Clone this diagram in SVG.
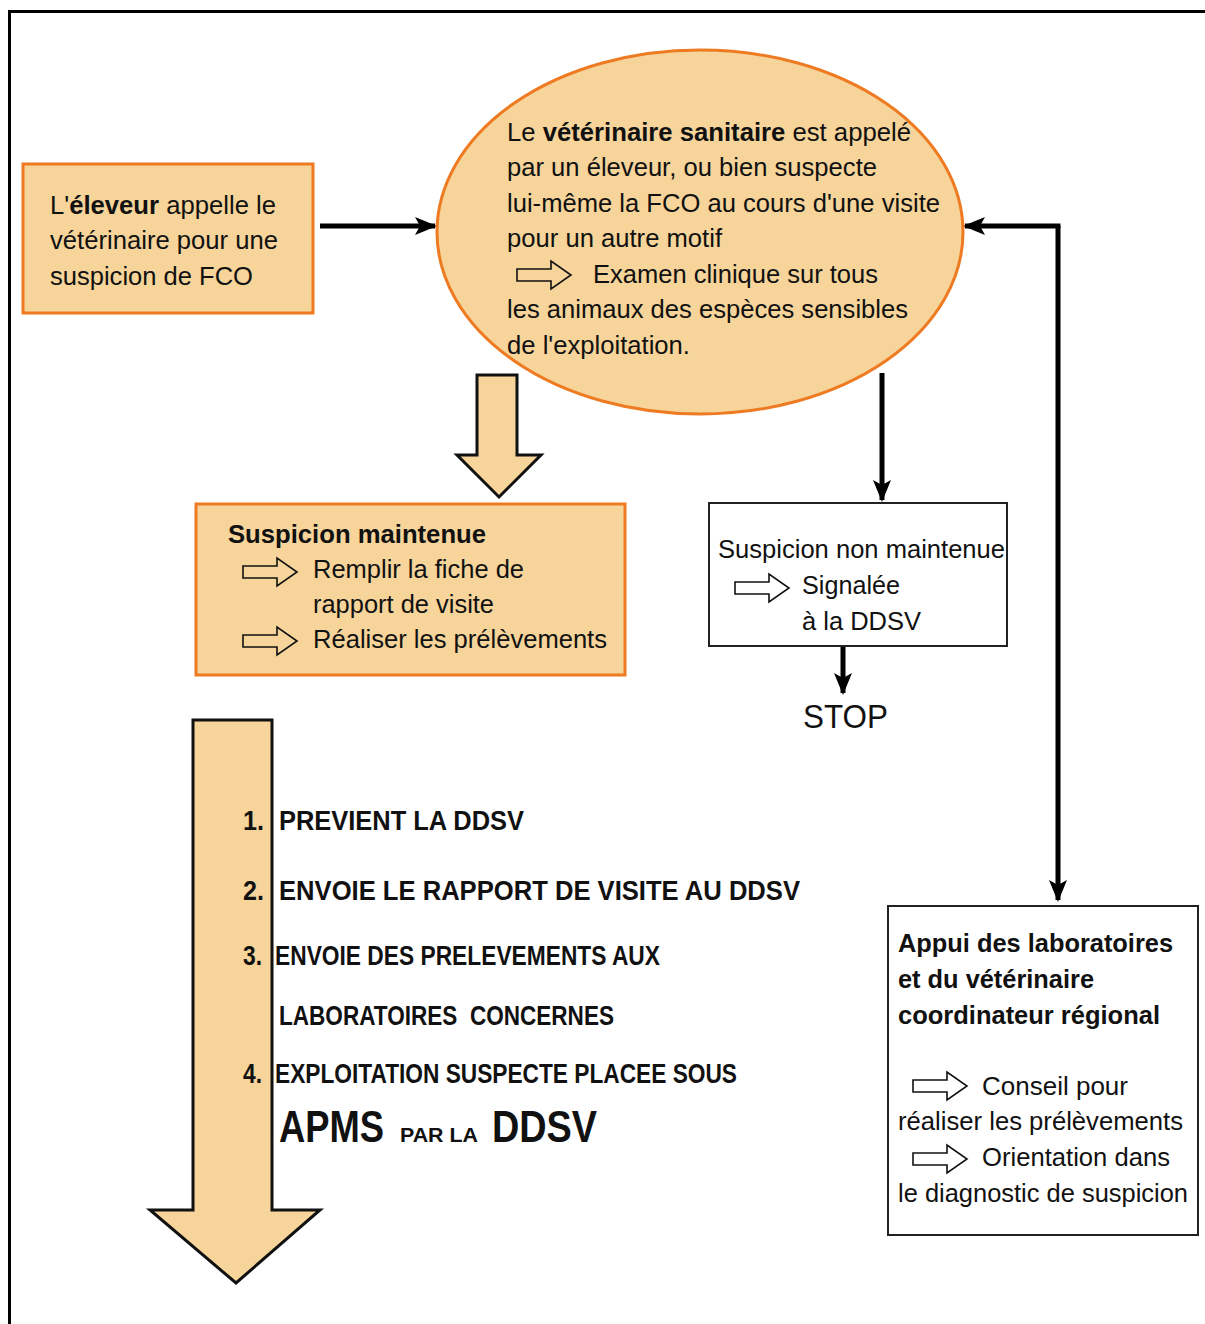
<svg xmlns="http://www.w3.org/2000/svg" width="1205" height="1324" viewBox="0 0 1205 1324">
<style>
text{font-family:"Liberation Sans",Arial,sans-serif;fill:#111;}
.t{font-size:25px;}
.b{font-weight:bold;}
.lst{font-size:27px;font-weight:bold;}
.or{fill:#F6D49A;stroke:#EE7A22;stroke-width:3;}
.wb{fill:#fff;stroke:#222;stroke-width:2;}
.fat{fill:#F6D49A;stroke:#111;stroke-width:3;stroke-linejoin:miter;}
.con{fill:none;stroke:#000;stroke-width:5;}
.ic{fill:none;stroke:#111;stroke-width:1.6;}
</style>
<defs>
<marker id="ah" markerUnits="userSpaceOnUse" markerWidth="22" markerHeight="20" viewBox="0 0 22 20" refX="20" refY="10" orient="auto">
<path d="M0,1 L22,10 L0,19 L5,10 Z" fill="#000"/>
</marker>
<path id="icon" d="M0,-6 H34 V-14 L54,0 L34,14 V6 H0 Z"/>
</defs>
<rect width="1205" height="1324" fill="#fff"/>
<path d="M9.5,1324 V11.5 H1205" fill="none" stroke="#000" stroke-width="3"/>

<g id="connectors">
<line class="con" x1="320" y1="226" x2="435" y2="226" marker-end="url(#ah)"/>
<line class="con" x1="882" y1="373" x2="882" y2="500" marker-end="url(#ah)"/>
<line class="con" x1="843" y1="646" x2="843" y2="693" marker-end="url(#ah)"/>
<path class="con" d="M1058,226 V900" marker-end="url(#ah)"/>
<path class="con" d="M1058,228 V226 H965" marker-end="url(#ah)"/>
<polygon class="fat" points="477,375 517,375 517,455 541,455 499,497 457,455 477,455"/>
</g>

<g id="node-eleveur">
<rect class="or" x="23" y="164" width="290" height="149"/>
<text class="t" x="50" y="214" textLength="226" lengthAdjust="spacingAndGlyphs">L'<tspan class="b">éleveur</tspan> appelle le</text>
<text class="t" x="50" y="249" textLength="228" lengthAdjust="spacingAndGlyphs">vétérinaire pour une</text>
<text class="t" x="50" y="285" textLength="203" lengthAdjust="spacingAndGlyphs">suspicion de FCO</text>
</g>

<g id="node-veterinaire">
<ellipse class="or" cx="700" cy="232" rx="263" ry="182"/>
<text class="t" x="507" y="141" textLength="404" lengthAdjust="spacingAndGlyphs">Le <tspan class="b">vétérinaire sanitaire</tspan> est appelé</text>
<text class="t" x="507" y="176" textLength="370" lengthAdjust="spacingAndGlyphs">par un éleveur, ou bien suspecte</text>
<text class="t" x="507" y="212" textLength="433" lengthAdjust="spacingAndGlyphs">lui-même la FCO au cours d'une visite</text>
<text class="t" x="507" y="247" textLength="215" lengthAdjust="spacingAndGlyphs">pour un autre motif</text>
<use href="#icon" class="ic" x="517" y="275"/>
<text class="t" x="593" y="283" textLength="285" lengthAdjust="spacingAndGlyphs">Examen clinique sur tous</text>
<text class="t" x="507" y="318" textLength="401" lengthAdjust="spacingAndGlyphs">les animaux des espèces sensibles</text>
<text class="t" x="507" y="354" textLength="183" lengthAdjust="spacingAndGlyphs">de l'exploitation.</text>
</g>

<g id="node-maintenue">
<rect class="or" x="196" y="504" width="429" height="171"/>
<text class="t b" x="228" y="543" textLength="258" lengthAdjust="spacingAndGlyphs">Suspicion maintenue</text>
<use href="#icon" class="ic" x="243" y="572"/>
<text class="t" x="313" y="578" textLength="211" lengthAdjust="spacingAndGlyphs">Remplir la fiche de</text>
<text class="t" x="313" y="613" textLength="181" lengthAdjust="spacingAndGlyphs">rapport de visite</text>
<use href="#icon" class="ic" x="243" y="641"/>
<text class="t" x="313" y="648" textLength="294" lengthAdjust="spacingAndGlyphs">Réaliser les prélèvements</text>
</g>

<g id="node-non-maintenue">
<rect class="wb" x="709" y="503" width="298" height="143"/>
<text class="t" x="718" y="558" textLength="287" lengthAdjust="spacingAndGlyphs">Suspicion non maintenue</text>
<use href="#icon" class="ic" x="735" y="588"/>
<text class="t" x="802" y="594" textLength="98" lengthAdjust="spacingAndGlyphs">Signalée</text>
<text class="t" x="802" y="630" textLength="119" lengthAdjust="spacingAndGlyphs">à la DDSV</text>
</g>

<g id="node-stop">
<text x="803" y="728" font-size="34" textLength="85" lengthAdjust="spacingAndGlyphs">STOP</text>
</g>

<g id="node-actions">
<polygon class="fat" points="193,720 272,720 272,1210 320,1210 236,1283 150,1210 193,1210"/>
<text class="lst" x="243" y="830" textLength="21" lengthAdjust="spacingAndGlyphs">1.</text>
<text class="lst" x="279" y="830" textLength="245" lengthAdjust="spacingAndGlyphs">PREVIENT LA DDSV</text>
<text class="lst" x="243" y="900" textLength="21" lengthAdjust="spacingAndGlyphs">2.</text>
<text class="lst" x="279" y="900" textLength="521" lengthAdjust="spacingAndGlyphs">ENVOIE LE RAPPORT DE VISITE AU DDSV</text>
<text class="lst" x="243" y="965" textLength="19" lengthAdjust="spacingAndGlyphs">3.</text>
<text class="lst" x="275" y="965" textLength="385" lengthAdjust="spacingAndGlyphs">ENVOIE DES PRELEVEMENTS AUX</text>
<text class="lst" x="279" y="1025" textLength="335" lengthAdjust="spacingAndGlyphs" xml:space="preserve">LABORATOIRES  CONCERNES</text>
<text class="lst" x="243" y="1083" textLength="19" lengthAdjust="spacingAndGlyphs">4.</text>
<text class="lst" x="275" y="1083" textLength="462" lengthAdjust="spacingAndGlyphs">EXPLOITATION SUSPECTE PLACEE SOUS</text>
<text class="b" x="279" y="1142" font-size="44" textLength="105" lengthAdjust="spacingAndGlyphs">APMS</text>
<text class="b" x="400" y="1142" font-size="21" textLength="78" lengthAdjust="spacingAndGlyphs">PAR LA</text>
<text class="b" x="492" y="1142" font-size="44" textLength="105" lengthAdjust="spacingAndGlyphs">DDSV</text>
</g>

<g id="node-appui">
<rect class="wb" x="888" y="906" width="310" height="329"/>
<text class="t b" x="898" y="952" textLength="275" lengthAdjust="spacingAndGlyphs">Appui des laboratoires</text>
<text class="t b" x="898" y="988" textLength="196" lengthAdjust="spacingAndGlyphs">et du vétérinaire</text>
<text class="t b" x="898" y="1024" textLength="262" lengthAdjust="spacingAndGlyphs">coordinateur régional</text>
<use href="#icon" class="ic" x="913" y="1086"/>
<text class="t" x="982" y="1095" textLength="146" lengthAdjust="spacingAndGlyphs">Conseil pour</text>
<text class="t" x="898" y="1130" textLength="285" lengthAdjust="spacingAndGlyphs">réaliser les prélèvements</text>
<use href="#icon" class="ic" x="913" y="1159"/>
<text class="t" x="982" y="1166" textLength="188" lengthAdjust="spacingAndGlyphs">Orientation dans</text>
<text class="t" x="898" y="1202" textLength="290" lengthAdjust="spacingAndGlyphs">le diagnostic de suspicion</text>
</g>
</svg>
